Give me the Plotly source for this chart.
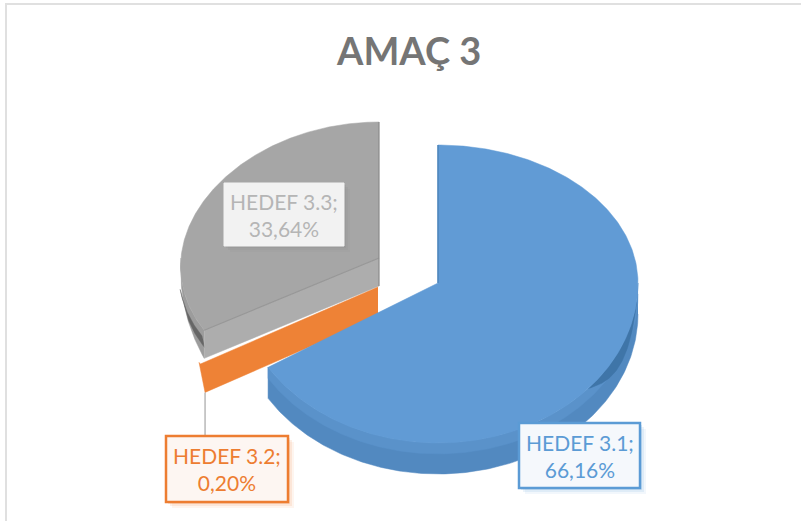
import numpy as np
import plotly.graph_objects as go

categories = ["HEDEF 3.1", "HEDEF 3.2", "HEDEF 3.3"]
values = [66.16, 0.20, 33.64]
title_text = "AMAÇ 3"

# Pixel-space geometry of the tilted, exploded pie (style only)
GEOM = {
    "HEDEF 3.1": dict(cx=438, cy=283, rx=200, back=138, front=160, h=31, k=0.0),
    "HEDEF 3.2": dict(cx=378, cy=287, rx=209, back=138, front=146, h=30, k=0.0),
    "HEDEF 3.3": dict(cx=379, cy=258, rx=198, back=136, front=140, h=28, k=0.06),
}
TOP = {"HEDEF 3.1": "#619bd5", "HEDEF 3.2": "#ed7d31", "HEDEF 3.3": "#a6a6a6"}
SIDE = {"HEDEF 3.1": "#5289c0", "HEDEF 3.2": "#e0752c", "HEDEF 3.3": "#9c9c9c"}
FACE = {"HEDEF 3.1": "#4d84ba", "HEDEF 3.2": "#ee8236", "HEDEF 3.3": "#adadad"}
BOX = {
    "HEDEF 3.1": dict(x0=519, y0=423, x1=640, y1=488, fill="#f5f8fc", line="#5b9bd5", w=2.5, text="#5b9bd5"),
    "HEDEF 3.2": dict(x0=166, y0=436, x1=288, y1=502, fill="#fdf6f2", line="#ed7d31", w=2.5, text="#ed7d31"),
    "HEDEF 3.3": dict(x0=224, y0=183, x1=344, y1=246, fill="#f2f2f2", line="#f2f2f2", w=1, text="#b5b5b5"),
}

total = sum(values)
edges = np.cumsum([0] + values) / total * 2 * np.pi
span = {c: (edges[i], edges[i + 1]) for i, c in enumerate(categories)}


def rim(g, th, dy=0.0):
    c = np.cos(th)
    ry = np.where(c > 0, g["back"], g["front"])
    return g["cx"] + g["rx"] * (1 - g["k"] * c) * np.sin(th), g["cy"] - ry * c + dy


def poly(fig, xs, ys, color, name):
    fig.add_trace(go.Scatter(x=xs, y=ys, mode="lines", fill="toself", fillcolor=color,
                             line=dict(color=color, width=0.5), name=name,
                             hoverinfo="name", showlegend=False))


fig = go.Figure()

# Gray slice: outer wall, cut face, top
c = "HEDEF 3.3"
g = GEOM[c]
a, b = span[c]
th = np.linspace(a, b, 240)
x, y = rim(g, th)
wall = np.linspace(a, 1.5 * np.pi, 60)
wx, wy = rim(g, wall)
wbx, wby = rim(g, wall, g["h"] * (wall - 1.5 * np.pi) / (a - 1.5 * np.pi))
poly(fig, np.r_[wx, wbx[::-1]], np.r_[wy, wby[::-1]], SIDE[c], c)
dark = np.linspace(a, a + 0.36, 30)
dx, dy = rim(g, dark, 0)
poly(fig, np.r_[dx - 2, dx[::-1] + 1], np.r_[dy + 6, dy[::-1] + 18], "#666666", c)
ax, ay = rim(g, np.array([a]))
poly(fig, [g["cx"], ax[0], ax[0], g["cx"]], [g["cy"], ay[0], ay[0] + g["h"], g["cy"] + g["h"]], FACE[c], c)
poly(fig, np.r_[g["cx"], x], np.r_[g["cy"], y], TOP[c], c)
fig.add_trace(go.Scatter(x=[g["cx"], ax[0]], y=[g["cy"], ay[0]], mode="lines",
                         line=dict(color="#979797", width=1.2), hoverinfo="skip", showlegend=False))
fig.add_trace(go.Scatter(x=[g["cx"], g["cx"]], y=[g["cy"] - g["back"], g["cy"] + g["h"]], mode="lines",
                         line=dict(color="#8a8a8a", width=1.2), hoverinfo="skip", showlegend=False))

# Orange slice: cut face dominates because the slice is so thin
c = "HEDEF 3.2"
g = GEOM[c]
a, b = span[c]
ox, oy = rim(g, np.array([a, b]))
poly(fig, [g["cx"], ox[0], ox[1], ox[1] + 6, g["cx"]],
     [g["cy"], oy[0], oy[1], oy[1] + g["h"], g["cy"] + g["h"]], FACE[c], c)
anchor_x, anchor_y = ox[1] + 6, oy[1] + g["h"]

# Blue slice: wall then top
c = "HEDEF 3.1"
g = GEOM[c]
a, b = span[c]
th = np.linspace(a, b, 360)
x, y = rim(g, th)
wall = np.linspace(np.pi / 2, b, 200)
wx, wy = rim(g, wall)
wbx, wby = rim(g, wall, g["h"])
poly(fig, np.r_[wx, wbx[::-1]], np.r_[wy, wby[::-1]], SIDE[c], c)
wmx, wmy = rim(g, wall, g["h"] * 0.35)
poly(fig, np.r_[wx, wmx[::-1]], np.r_[wy, wmy[::-1]], "#5a92ca", c)
dark = np.linspace(np.pi / 2 + 0.12, np.pi / 2 + 0.72, 60)
taper = np.sin((dark - dark[0]) / (dark[-1] - dark[0]) * np.pi)
dx, dy = rim(g, dark)
dbx, dby = rim(g, dark, g["h"] * 0.5 * taper)
poly(fig, np.r_[dx, dbx[::-1]], np.r_[dy, dby[::-1]], "#3f75a8", c)
poly(fig, np.r_[g["cx"], x, g["cx"]], np.r_[g["cy"], y, g["cy"]], TOP[c], c)
fig.add_trace(go.Scatter(x=[g["cx"], g["cx"]], y=[g["cy"] - g["back"], g["cy"]], mode="lines",
                         line=dict(color="#4d84ba", width=1.5), hoverinfo="skip", showlegend=False))

# Leader line for the smallest slice
lead = BOX["HEDEF 3.2"]
fig.add_trace(go.Scatter(x=[anchor_x, anchor_x], y=[anchor_y, lead["y0"]], mode="lines",
                         line=dict(color="#a6a6a6", width=1.2), hoverinfo="skip", showlegend=False))

shapes = [dict(type="rect", xref="x", yref="y", x0=6, y0=4, x1=830, y1=560,
               line=dict(color="#e0e0e0", width=2), fillcolor="rgba(0,0,0,0)", layer="below")]
annotations = []
for cat, val in zip(categories, values):
    bx = BOX[cat]
    for off, op in ((6, 0.08), (4, 0.12), (2, 0.16)):
        shapes.append(dict(type="rect", xref="x", yref="y", x0=bx["x0"] + off, y0=bx["y0"] + off,
                           x1=bx["x1"] + off, y1=bx["y1"] + off, line=dict(width=0),
                           fillcolor=bx["line"] if cat != "HEDEF 3.3" else "#808080", opacity=op))
    shapes.append(dict(type="rect", xref="x", yref="y", x0=bx["x0"], y0=bx["y0"], x1=bx["x1"], y1=bx["y1"],
                       line=dict(color=bx["line"], width=bx["w"]), fillcolor=bx["fill"]))
    pct = f"{val:.2f}".replace(".", ",")
    annotations.append(dict(x=(bx["x0"] + bx["x1"]) / 2, y=(bx["y0"] + bx["y1"]) / 2, xref="x", yref="y",
                            text=f"{cat};<br>{pct}%", showarrow=False, align="center",
                            font=dict(family="Lato, Carlito, sans-serif", size=21, color=bx["text"])))

annotations.append(dict(x=408, y=50, xref="x", yref="y", text=f"<b>{title_text}</b>", showarrow=False,
                        font=dict(family="Lato, Carlito, sans-serif", size=38, color="#757575")))

fig.update_layout(
    width=801, height=521, margin=dict(l=0, r=0, t=0, b=0),
    paper_bgcolor="white", plot_bgcolor="white",
    xaxis=dict(range=[0, 801], visible=False, fixedrange=True),
    yaxis=dict(range=[521, 0], visible=False, fixedrange=True),
    shapes=shapes, annotations=annotations, showlegend=False,
)
fig.write_html("out.html", post_script="document.body.style.margin='0';document.documentElement.style.overflow='hidden';",
               config={"displayModeBar": False})
